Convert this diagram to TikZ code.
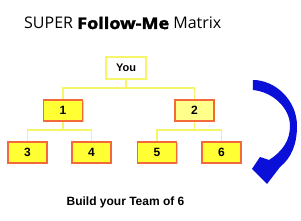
\documentclass[tikz,border=0pt]{standalone}
\usepackage{fontspec}
\setmainfont{Liberation Sans}
\newfontfamily\titlefont{Open Sans}
\newfontfamily\titleheavy[FakeBold=2,FakeStretch=1.13]{Open Sans Bold}
\usetikzlibrary{shadows}
\definecolor{boxborder}{HTML}{F26A3A}
\definecolor{boxfill}{HTML}{FFFF33}
\definecolor{boxfilllight}{HTML}{FFFF8C}
\definecolor{linkyellow}{HTML}{F5F56A}
\definecolor{arrowblue}{HTML}{0A10D8}
\begin{document}
\begin{tikzpicture}[x=1pt,y=-1pt,
  member/.style={draw=boxborder, line width=1.2pt, fill=boxfill, minimum width=39pt, minimum height=21pt, inner sep=0pt,
    font=\bfseries\fontsize{12}{12}\selectfont,
    drop shadow={shadow xshift=1.5pt, shadow yshift=-1.5pt, fill=black!30, opacity=0.6}},
  topbox/.style={draw=linkyellow, line width=1.2pt, fill=white, minimum width=40pt, minimum height=22pt, inner sep=0pt,
    font=\bfseries\fontsize{11}{11}\selectfont},
  link/.style={draw=linkyellow, line width=1.3pt}]
\useasboundingbox (0,0) rectangle (301,221);
\node[anchor=base west, inner sep=0pt, font=\titlefont\fontsize{16}{16}\selectfont] (title) at (24,29) {SUPER {\titleheavy Follow-Me} Matrix};
\coordinate (b0) at (126,88);
\coordinate (b1) at (63,130);
\coordinate (b2) at (194.5,130);
\draw[link] (126,70) -- (b0);
\draw[link] (63,105) |- (b0) -| (194.5,105);
\draw[link] (63,115) -- (b1);
\draw[link] (27.5,150) |- (b1) -| (91.5,150);
\draw[link] (194.5,115) -- (b2);
\draw[link] (157,150) |- (b2) -| (221.5,150);
\node[topbox] (you) at (126,68) {You};
\node[member] (n1) at (63,110.5) {1};
\node[member, fill=boxfilllight] (n2) at (194.5,110.5) {2};
\node[member] (n3) at (27.5,152.5) {3};
\node[member] (n4) at (91.5,152.5) {4};
\node[member] (n5) at (157,152.5) {5};
\node[member] (n6) at (221.5,152.5) {6};
\fill[arrowblue] (253,80) .. controls (275,80) and (297,100) .. (297,126)
  .. controls (297,145) and (291,158) .. (280,167) -- (267,184) -- (252,169) -- (260,157) -- (269,160)
  .. controls (283,151) and (290,140) .. (290,126) .. controls (290,108) and (273,92) .. (253,90) -- cycle;
\node[anchor=base, inner sep=0pt, font=\bfseries\fontsize{12}{12}\selectfont] (caption) at (125.5,206) {Build your Team of 6};
\end{tikzpicture}
\end{document}
